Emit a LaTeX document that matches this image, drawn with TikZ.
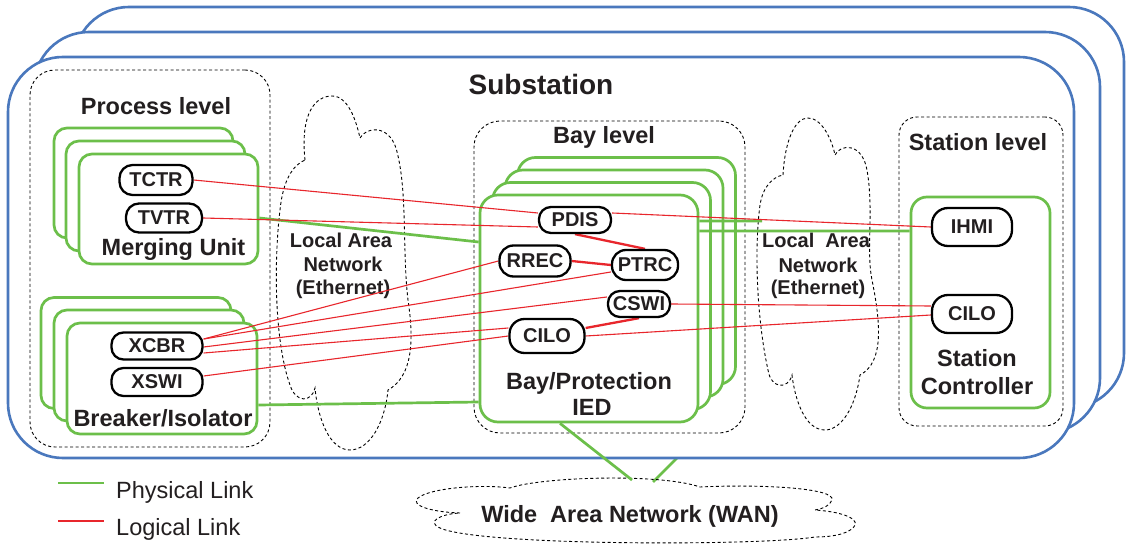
\documentclass[tikz,border=0pt]{standalone}
\usepackage{fontspec}
\setmainfont{Liberation Sans}
\definecolor{sblue}{HTML}{4A78BD}
\definecolor{sgreen}{HTML}{6CBF4A}
\definecolor{sred}{HTML}{E8262C}
\definecolor{stext}{HTML}{231F20}
\newcommand\myfs[1]{\fontsize{#1bp}{#1bp}\selectfont}
\pgfdeclarelayer{front}
\pgfsetlayers{main,front}
\tikzset{
  bluebox/.style={draw=sblue, line width=2.6bp, fill=white, rounded corners=55bp,
    minimum width=1066bp, minimum height=401bp, inner sep=0pt},
  lvlbox/.style={draw=black, line width=0.9bp, dash pattern=on 3bp off 2.5bp,
    rounded corners=#1, inner sep=0pt},
  gbox/.style={draw=sgreen, line width=2.7bp, fill=white, rounded corners=#1, inner sep=0pt},
  pill/.style={draw=black, line width=2.3bp, fill=white, rounded corners=#1, inner sep=0pt,
    font=\myfs{20}\bfseries, text=stext},
  ttl/.style={font=\myfs{23.5}\bfseries, text=stext, inner sep=0pt, anchor=base},
  big/.style={font=\myfs{28}\bfseries, text=stext, inner sep=0pt, anchor=base},
  sml/.style={font=\myfs{20}\bfseries, text=stext, inner sep=0pt, anchor=base},
  leg/.style={font=\myfs{23.5}, text=stext, inner sep=0pt, anchor=base west},
  cloudline/.style={draw=black, line width=0.9bp, dash pattern=on 3bp off 2.5bp},
  plink/.style={draw=sgreen, line width=2.7bp},
  llink/.style={draw=sred, line width=1.1bp},
  llinkb/.style={draw=sred, line width=2.3bp},
}
\begin{document}
\begin{tikzpicture}[x=1bp,y=-1bp]
\path[use as bounding box, fill=white] (0,0) rectangle (1130,545);

% substation stack
\node[bluebox, minimum width=1050bp] (sub3) at (599,207.5) {};
\node[bluebox] (sub2) at (567,232.5) {};
\coordinate (wan2) at (653,482);
\coordinate (stub) at (697,438);
\draw[plink] (wan2) -- (stub);
\node[bluebox] (sub1) at (541,257.5) {};
\node[big] (tsub) at (541,95) {Substation};

% level boxes
\node[lvlbox=25bp, minimum width=240bp, minimum height=377bp] (proc) at (150,258.5) {};
\node[lvlbox=26bp, minimum width=271bp, minimum height=312bp] (bay) at (609.5,277) {};
\node[lvlbox=18bp, minimum width=164bp, minimum height=309bp] (stat) at (981,271.5) {};
\node[ttl] (tproc) at (156,115) {Process level};
\node[ttl] (tbay) at (604,144) {Bay level};
\node[ttl] (tstat) at (978,151) {Station level};

% LAN clouds
\draw[cloudline] (305,160) .. controls (300,112) and (316,96) .. (332,96)
  .. controls (348,96) and (356,120) .. (360,138)
  .. controls (366,127) and (388,124) .. (396,148)
  .. controls (408,190) and (402,250) .. (408,300)
  .. controls (414,340) and (413,376) .. (388,390)
  .. controls (385,422) and (370,450) .. (350,450)
  .. controls (330,450) and (318,420) .. (315,388)
  .. controls (312,402) and (296,404) .. (290,385)
  .. controls (274,340) and (274,260) .. (280,210)
  .. controls (283,180) and (293,165) .. (305,160) -- cycle;
\draw[cloudline] (783,175) .. controls (785,140) and (795,118) .. (808,118)
  .. controls (822,118) and (832,140) .. (835,155)
  .. controls (840,144) and (862,142) .. (867,170)
  .. controls (874,210) and (866,250) .. (872,280)
  .. controls (880,320) and (885,362) .. (860,375)
  .. controls (855,410) and (840,430) .. (825,430)
  .. controls (805,430) and (795,400) .. (792,375)
  .. controls (788,390) and (771,389) .. (768,370)
  .. controls (757,320) and (754,250) .. (760,205)
  .. controls (763,186) and (773,177) .. (783,175) -- cycle;
\node[sml] (l1a) at (341,248) {Local Area};
\node[sml] (l1b) at (343,272) {Network};
\node[sml] (l1c) at (343,295) {(Ethernet)};
\node[sml] (l2a) at (816,248) {Local\ \ Area};
\node[sml] (l2b) at (818,273) {Network};
\node[sml] (l2c) at (818,295) {(Ethernet)};

% merging units
\node[gbox=13bp, minimum width=179bp, minimum height=110bp] (mub) at (143.5,183) {};
\node[gbox=13bp, minimum width=179bp, minimum height=110bp] (mum) at (155.5,196) {};
\node[gbox=13bp, minimum width=179bp, minimum height=110bp] (muf) at (168.5,209) {};
\node[ttl] (tmu) at (173.5,256) {Merging Unit};
% breakers
\node[gbox=13bp, minimum width=190bp, minimum height=111bp] (brkb) at (136,353) {};
\node[gbox=13bp, minimum width=190bp, minimum height=111bp] (brkm) at (149,365.5) {};
\node[gbox=13bp, minimum width=190bp, minimum height=111bp] (brkf) at (162,378.5) {};
\node[ttl] (tbrk) at (163,426) {Breaker/Isolator};
% IED stack
\node[gbox=18bp, minimum width=218bp, minimum height=227bp] (ied4) at (626.5,271) {};
\node[gbox=18bp, minimum width=218bp, minimum height=227bp] (ied3) at (614,283.5) {};
\node[gbox=18bp, minimum width=218bp, minimum height=227bp] (ied2) at (601.5,296) {};
\node[gbox=18bp, minimum width=218bp, minimum height=227bp] (iedf) at (589,308.5) {};
\node[ttl] (tied1) at (589,389) {Bay/Protection};
\node[ttl] (tied2) at (592,415) {IED};
% station controller
\node[gbox=16bp, minimum width=139bp, minimum height=211bp] (sc) at (980.5,302.5) {};
\node[ttl] (tsc1) at (977,367) {Station};
\node[ttl] (tsc2) at (977,394) {Controller};

% WAN cloud
\draw[cloudline] (460,513) .. controls (430,512) and (410,505) .. (418,498)
  .. controls (430,488) and (480,484) .. (510,488)
  .. controls (540,477) and (660,473) .. (700,487)
  .. controls (760,484) and (836,488) .. (832,500)
  .. controls (830,506) and (822,509) .. (815,510)
  .. controls (845,512) and (862,520) .. (853,528)
  .. controls (845,535) and (830,537) .. (815,537)
  .. controls (760,546) and (480,546) .. (440,528)
  .. controls (426,522) and (440,514) .. (460,513) -- cycle;
\coordinate (wan1) at (632,480);
\node[ttl] (twan) at (630,522) {Wide\ \ Area Network (WAN)};

% logical function nodes (drawn on the front layer)
\begin{pgfonlayer}{front}
\node[pill=13bp, minimum width=73bp, minimum height=30bp] (tctr) at (156,180) {TCTR};
\node[pill=13bp, minimum width=76bp, minimum height=29bp] (tvtr) at (164,218) {TVTR};
\node[pill=12bp, minimum width=91bp, minimum height=27bp] (xcbr) at (157,346) {XCBR};
\node[pill=12bp, minimum width=91bp, minimum height=28bp] (xswi) at (157,382) {XSWI};
\node[pill=12bp, minimum width=72bp, minimum height=26bp] (pdis) at (575,220) {PDIS};
\node[pill=14bp, minimum width=71bp, minimum height=31bp] (rrec) at (535,261) {RREC};
\node[pill=14bp, minimum width=66bp, minimum height=30bp] (ptrc) at (645,265) {PTRC};
\node[pill=12bp, minimum width=62bp, minimum height=26bp] (cswi) at (639,304) {CSWI};
\node[pill=15bp, minimum width=75bp, minimum height=34bp] (cilob) at (547,336) {CILO};
\node[pill=16bp, minimum width=80bp, minimum height=38bp] (ihmi) at (972,227) {IHMI};
\node[pill=16bp, minimum width=80bp, minimum height=38bp] (cilos) at (972,314) {CILO};
\end{pgfonlayer}

% physical links
\coordinate (lanr) at (762,221);
\draw[plink] ([yshift=-9bp]muf.east) -- ([yshift=66.5bp]iedf.west);
\draw[plink] ([yshift=-26.5bp]brkf.east) -- ([yshift=-93.5bp]iedf.west);
\draw[plink] ([yshift=87.5bp]iedf.east) -- (lanr);
\draw[plink] ([yshift=77.5bp]iedf.east) -- ([yshift=71.5bp]sc.west);
\draw[plink] ([xshift=-29bp]iedf.south) -- (wan1);

% logical links
\draw[llink] (tctr.east) -- ([yshift=7bp]pdis.west);
\draw[llink] (tvtr.east) -- ([yshift=-7bp]pdis.west);
\draw[llink] ([yshift=7bp]pdis.east) -- (ihmi.west);
\draw[llinkb] (pdis.south) -- (ptrc.north);
\draw[llinkb] (rrec.east) -- (ptrc.west);
\draw[llinkb] (cswi.south) -- ([yshift=8bp]cilob.east);
\draw[llink] ([yshift=7bp]xcbr.east) -- (rrec.west);
\draw[llink] ([yshift=7bp]xcbr.east) -- ([yshift=-7bp]ptrc.west);
\draw[llink] ([yshift=-1bp]xcbr.east) -- ([yshift=7bp]cswi.west);
\draw[llink] ([yshift=-7bp]xcbr.east) -- ([yshift=8bp]cilob.west);
\draw[llink] ([yshift=6bp]xswi.east) -- (cilob.west);
\draw[llink] (cswi.east) -- ([yshift=8bp]cilos.west);
\draw[llink] (cilob.east) -- ([yshift=-1bp]cilos.west);

% legend
\coordinate (lg1a) at (58,483); \coordinate (lg1b) at (104,483);
\coordinate (lg2a) at (58,521); \coordinate (lg2b) at (104,521);
\draw[plink] (lg1a) -- (lg1b);
\draw[llinkb] (lg2a) -- (lg2b);
\node[leg] (tleg1) at (116,498) {Physical Link};
\node[leg] (tleg2) at (116,535) {Logical Link};
\end{tikzpicture}
\end{document}
